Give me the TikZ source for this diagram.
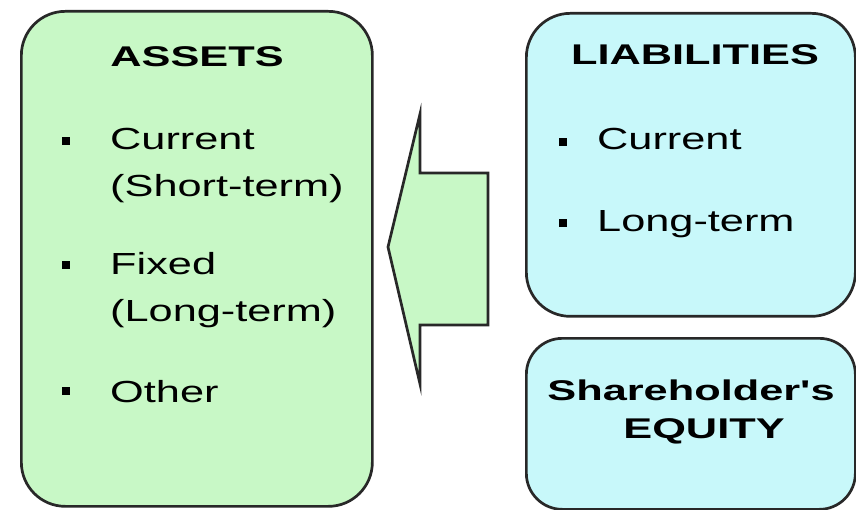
\documentclass[tikz,border=0pt]{standalone}
\usepackage{fontspec}
\newfontfamily\boxfont{Liberation Sans}[FakeStretch=1.52]
\newfontfamily\itemfont{Liberation Sans}[FakeStretch=1.42]
\definecolor{assetgreen}{RGB}{200,248,198}
\definecolor{liabblue}{RGB}{200,248,250}
\definecolor{edgegray}{RGB}{40,40,40}

\begin{document}
\begin{tikzpicture}[x=1pt,y=-1pt]
    \tikzstyle{box}=[draw=edgegray, line width=2.7pt, rounded corners=44pt, anchor=north west, inner sep=0pt]
    \tikzstyle{head}=[font=\boxfont\bfseries\fontsize{28.5}{38}\selectfont, anchor=base, inner sep=0pt]
    \tikzstyle{item}=[font=\itemfont\fontsize{30.5}{35}\selectfont, anchor=base west, inner sep=0pt]
    \tikzstyle{bul}=[fill=black, inner sep=0pt, minimum size=8pt]
    \useasboundingbox (0,0) rectangle (856,510);
    % the three boxes
    \node(Assets)[box, fill=assetgreen, minimum width=351pt, minimum height=495pt] at (20,10) {};
    \node(Liab)[box, fill=liabblue, minimum width=329pt, minimum height=303pt] at (525,12) {};
    \node(Equity)[box, fill=liabblue, minimum width=329pt, minimum height=171pt, rounded corners=36pt] at (525,337) {};
    % arrow from the right side to the assets
    \draw[draw=edgegray, line width=2.7pt, fill=assetgreen]
      (488,173) -- (420,173) -- (420,114) -- (388,247) -- (420,384) -- (420,325) -- (488,325) -- cycle;
    % assets
    \node(AssetsHead)[head] at (197,67) {ASSETS};
    \node(AssetsCur)[item] at (110,150) {Current};
    \node(AssetsCurB)[item] at (110,197) {(Short-term)};
    \node(AssetsFix)[item] at (110,275) {Fixed};
    \node(AssetsFixB)[item] at (110,322) {(Long-term)};
    \node(AssetsOth)[item] at (110,402) {Other};
    \node(BulA1)[bul] at (66,141) {};
    \node(BulA2)[bul] at (66,265) {};
    \node(BulA3)[bul] at (66,391) {};
    % liabilities and equity
    \node(LiabHead)[head] at (695,65) {LIABILITIES};
    \node(LiabCur)[item] at (597,150) {Current};
    \node(LiabLong)[item] at (597,232) {Long-term};
    \node(BulL1)[bul] at (563,142) {};
    \node(BulL2)[bul] at (563,223) {};
    \node(EquityHead)[head] at (691,400) {Shareholder's};
    \node(EquityHeadB)[head] at (704,438) {EQUITY};
\end{tikzpicture}
\end{document}
